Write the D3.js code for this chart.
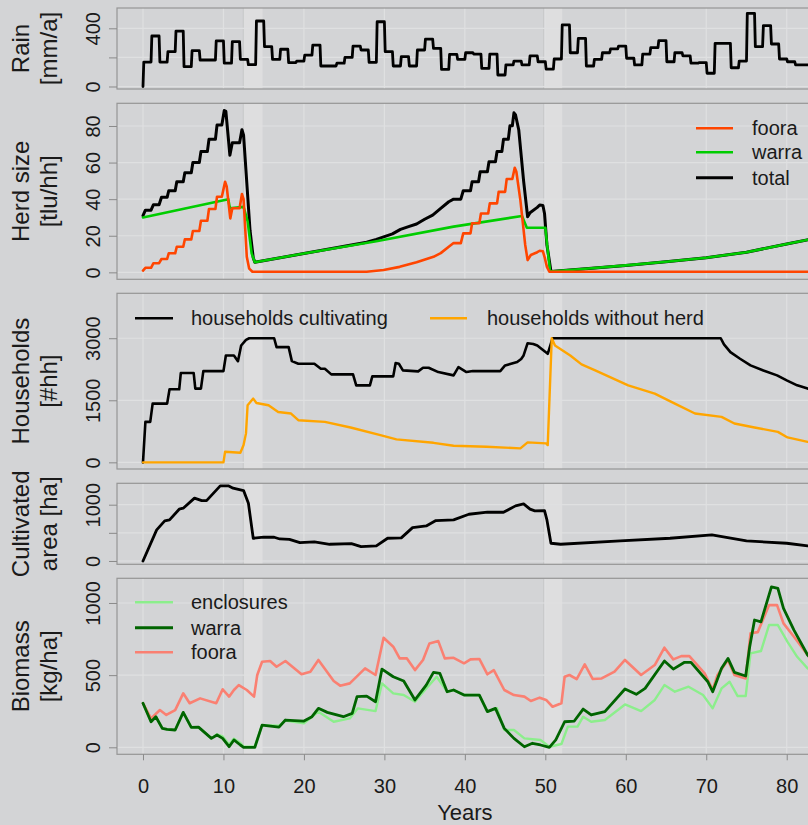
<!DOCTYPE html>
<html>
<head>
<meta charset="utf-8">
<script src="https://cdn.jsdelivr.net/npm/d3@7"></script>
<style>
  body { margin: 0; background: #d3d4d6; }
  svg { display: block; font-family: "Liberation Sans", Arial, sans-serif; }
</style>
</head>
<body>
<div id="chart"></div>
<script>
// ---- data (years, values) ----
const yearTicks = [0, 10, 20, 30, 40, 50, 60, 70, 80];
const droughtBands = [[12.46, 14.86], [49.8, 52.1]];

// annual rain, one value per year starting at year 0
const rain = [168, 347, 168, 239, 381, 136, 246, 182, 182, 313, 160, 308, 187, 150, 450, 274, 187, 256, 164, 175,
  216, 285, 141, 141, 160, 200, 278, 251, 166, 445, 239, 141, 205, 141, 251, 326, 262, 118, 221, 187,
  232, 223, 125, 223, 79, 148, 175, 148, 210, 170, 120, 189, 423, 232, 331, 141, 187, 232, 258, 278,
  194, 148, 223, 267, 315, 170, 232, 210, 160, 164, 91, 297, 297, 129, 175, 503, 274, 418, 292, 189,
  170, 148, 148, 148, 148];
const rainTicks = [0, 200, 400];
const rainTickLabels = ['0', '', '400'];

const herdTotal = [[0,31],[0.3,34],[1,34],[1.3,37],[2,37],[2.3,41],[3,41],[3.2,44.6],[4,44.6],[4.2,49.5],[5,49.5],
  [5.2,54.4],[6,54.4],[6.2,60],[7,60],[7.2,66],[8,66],[8.2,72.7],[9,72.7],[9.2,80.5],[9.8,80.5],[10.1,88.5],
  [10.3,88],[10.8,64],[11.1,70.8],[12,70.8],[12.3,78],[12.5,75],[13.3,23],[13.7,8],[13.9,5.5],[20,10.3],
  [27.8,16.5],[29,18],[30,19.5],[31,21],[32,23.5],[33,25],[34,26.4],[35,29],[36,31.3],[37,35],[38,38.6],
  [38.6,40],[39.5,40],[39.8,44.6],[40.7,44.6],[40.9,49.5],[41.7,49.5],[41.9,55],[42.8,55],[43,60.4],
  [43.8,60.4],[44,66],[44.6,66],[44.8,72.7],[45.4,72.7],[45.6,80.1],[45.9,80.1],[46.1,87.2],[46.3,86],
  [46.7,77.8],[47.3,50],[47.8,30.4],[48.1,32.6],[49,35.5],[49.3,36.8],[49.7,36.5],[49.9,32.2],[50.2,15],
  [50.7,0.5],[55,2],[60,3.8],[65,5.8],[70,8],[75,11],[80,15.5],[84,19]];
const herdWarra = [[0,30],[10.6,40],[10.8,35],[12.5,35.8],[13,28],[13.5,10.4],[13.9,5.5],[20,10.3],[29,17],
  [38.6,25],[47.1,30.8],[47.7,24.4],[50,24.4],[50.3,12],[50.6,0.5],[55,2],[60,3.8],[65,5.8],[70,8],[75,11],
  [80,15.5],[84,19]];
const herdFoora = [[0,1],[0.3,2.5],[1,2.5],[1.3,5],[2,5],[2.3,7.3],[3,7.3],[3.2,10.4],[4,10.4],[4.2,14],[5,14],
  [5.2,18],[6,18],[6.2,22.6],[7,22.6],[7.2,28.2],[8,28.2],[8.2,34.6],[9,34.6],[9.2,41.3],[9.8,41.3],
  [10.2,49.5],[10.4,47],[10.85,29.5],[11.1,35],[12,35],[12.3,42.8],[12.5,40],[12.9,8.5],[13.2,2],
  [13.6,0.3],[27.8,0.3],[29.9,1.3],[31.9,3],[34,5.5],[36.1,8.5],[37,10.5],[38,14],[38.6,16],[39.5,16],
  [39.8,21.3],[40.7,21.3],[40.9,26.8],[41.8,26.8],[42,32.2],[42.9,32.2],[43.1,37.7],[44,37.7],[44.2,44],
  [45,44],[45.2,51],[45.9,51],[46.2,57.2],[46.4,55],[46.9,39.5],[47.5,15],[47.8,6.7],[48.2,9.5],[49,11],
  [49.3,11.8],[49.7,11.5],[49.9,8.5],[50.2,3],[50.5,0.3],[84,0.3]];
const herdTicks = [0, 20, 40, 60, 80];

const hhCultivating = [[0,0],[0.3,978],[0.9,978],[1.2,1420],[3,1420],[3.3,1765],[4.5,1765],[4.7,2158],
  [6.3,2158],[6.5,1782],[7.2,1782],[7.5,2206],[10,2206],[10.3,2584],[11.3,2584],[11.8,2446],[12.2,2825],
  [12.8,2962],[13.2,3000],[16.3,3000],[16.6,2784],[18.1,2784],[18.5,2446],[19.3,2384],[21.3,2384],
  [22.1,2263],[22.6,2263],[23.4,2126],[26.1,2126],[26.5,1861],[28.2,1861],[28.5,2078],[31.1,2078],
  [31.4,2400],[31.8,2384],[32.3,2222],[34.2,2198],[34.8,2287],[35.5,2287],[36.7,2182],[38.6,2102],
  [39.2,2302],[40.2,2182],[41,2206],[44.4,2206],[45,2343],[46.5,2423],[47,2500],[47.3,2584],[47.8,2880],
  [48.5,2860],[49,2825],[50.3,2624],[50.9,3000],[71.8,3000],[72.2,2850],[73,2664],[74.2,2504],[75.5,2343],
  [77.1,2222],[78.8,2102],[80,1982],[81.3,1861],[82.6,1782],[84,1720]];
const hhNoHerd = [[0,0],[10,0],[10.2,255],[12.1,233],[12.5,417],[12.8,700],[13,1380],[13.7,1541],[14.1,1435],
  [15.6,1380],[16.8,1218],[18.4,1180],[19.3,1019],[22.6,978],[25.8,843],[29.5,657],[31.5,554],[36.1,472],
  [38.6,400],[42.7,376],[46.9,337],[47.8,482],[50.1,458],[50.3,417],[50.8,3000],[51.2,2825],[53.1,2584],
  [54.5,2367],[56.2,2222],[60.3,1861],[63.6,1661],[66.1,1420],[68.6,1180],[71.9,1098],[73.5,939],[76,843],
  [78.9,737],[80.1,602],[82.6,496],[84,460]];
const hhTicks = [0, 1500, 3000];

const cultArea = [[0,0],[1.7,552],[2.7,712],[3.3,730],[4.5,920],[5,938],[6.4,1116],[7.3,1073],[7.9,1073],
  [9.6,1335],[10.6,1335],[11.2,1293],[12.5,1251],[13.1,1027],[13.7,404],[15,422],[16.3,422],[17,391],
  [18.2,385],[19.5,326],[21.3,338],[23.2,297],[25.9,308],[27.1,255],[29,267],[30.4,404],[32.1,410],
  [33.5,593],[35.2,623],[36.4,718],[38.6,730],[40.5,830],[42.8,866],[44.8,866],[46.3,979],[47.3,1014],
  [48.1,920],[48.7,890],[49.9,896],[50.2,730],[50.7,315],[51.9,297],[59.3,356],[65.5,404],[70.7,463],
  [75,356],[80,315],[82.6,267],[84,255]];
const cultTicks = [0, 500, 1000];
const cultTickLabels = ['0', '', '1000'];

const bioEnclosures = [[0,305],[1,177],[1.6,212],[2.4,131],[3,124],[4,120],[5,242],[6,138],[6.9,140],[8.5,62],
  [9.2,90],[9.9,75],[10.7,20],[11.3,60],[12.1,30],[12.5,5],[13.9,5],[14.8,154],[16.9,150],[17.7,185],[20,166],
  [21.8,247],[23.7,177],[25.7,200],[26.7,270],[28.9,251],[29.7,443],[31.1,374],[32.4,362],[33.8,316],
  [35.2,408],[36.5,489],[37.8,385],[38.6,397],[39.9,362],[41.8,362],[42.8,247],[44,270],[44.9,120],
  [46.1,120],[47.4,62],[49.4,51],[50.5,4],[52,23],[52.8,143],[54,143],[54.7,212],[55.7,177],[57.4,189],
  [59.9,297],[61.9,251],[63.6,328],[64.8,431],[66.1,385],[67.8,420],[69.6,362],[70.8,270],[71.9,408],
  [72.9,454],[73.9,355],[74.9,355],[75.5,651],[76.8,667],[77.8,847],[78.9,847],[80.1,731],[81.3,627],
  [82.6,547],[84,490]];
const bioWarra = [[0,305],[1,177],[1.6,212],[2.4,131],[3,124],[4,120],[5,242],[6,138],[6.9,140],[8.5,62],
  [9.2,85],[9.9,62],[10.7,4],[11.3,51],[12.1,16],[12.5,0],[13.9,0],[14.8,154],[16.9,140],[17.7,189],[20,182],
  [21,212],[21.8,270],[22.9,242],[24.9,212],[26,235],[26.6,351],[27.8,355],[28.9,316],[29.7,542],[31.1,489],
  [32.4,459],[33.8,328],[35.2,431],[36.1,519],[36.9,512],[37.8,385],[38.6,397],[39.9,362],[41.8,362],
  [42.8,247],[43.8,270],[44.9,131],[46.1,62],[47.4,4],[48.4,28],[49.4,16],[50.5,0],[51.3,51],[52.4,177],
  [53.6,182],[54.7,265],[55.7,224],[57.4,247],[59.9,404],[61.3,367],[62.4,408],[64.8,598],[65.9,542],
  [67.3,589],[68.1,589],[70.2,454],[70.8,385],[71.9,547],[72.7,616],[73.5,519],[74.9,494],[75.4,697],
  [76,882],[76.8,869],[78.1,1112],[78.9,1101],[79.6,963],[80.9,812],[82.6,639],[84,560]];
const bioFoora = [[0,305],[1,200],[2.1,258],[2.9,224],[4,258],[5,374],[5.8,305],[7.1,339],[9.1,305],[9.9,402],
  [10.7,351],[11.3,397],[11.9,431],[12.9,397],[13.8,351],[14.2,501],[14.8,593],[15.8,598],[16.6,558],
  [17.7,598],[19.7,506],[20.8,524],[21.8,605],[23.7,459],[24.5,427],[25.7,443],[27.6,547],[28.9,501],
  [29.9,759],[31.1,697],[31.9,616],[32.8,616],[33.8,535],[34.8,605],[35.6,720],[36.7,736],[37.5,616],
  [38.6,620],[39.9,582],[40.7,609],[41.8,612],[42.8,506],[43.6,535],[44.9,397],[46.1,362],[47.4,351],
  [48.2,321],[49.3,344],[50.1,328],[50.9,281],[52,305],[52.4,489],[53,501],[53.9,473],[54.9,575],
  [55.9,473],[57,477],[58.6,524],[59.9,605],[61.9,501],[63.6,570],[64.8,690],[65.9,609],[66.9,632],
  [67.9,632],[69.8,512],[70.8,397],[71.4,501],[72.7,605],[73.5,501],[74.9,477],[75.5,790],[76.4,798],
  [77.8,985],[78.8,985],[79.6,859],[80.9,766],[82.6,639],[84,560]];
const bioTicks = [0, 500, 1000];

// ---- layout ----
const width = 808, height = 825;
const plotLeft = 117, plotRight = 835;
const x = d3.scaleLinear().domain([-3.23, 86]).range([plotLeft, plotRight]);
const font = '"Liberation Sans", Arial, sans-serif';

const panels = [
  { id: 'rain', top: 8, bottom: 89, domain: [-17.2, 539.5], ticks: rainTicks, labels: rainTickLabels, title: ['Rain', '[mm/a]'] },
  { id: 'herd', top: 103.3, bottom: 279.3, domain: [-3.8, 92.4], ticks: herdTicks, title: ['Herd size', '[tlu/hh]'] },
  { id: 'hh', top: 293.3, bottom: 469, domain: [-161, 4086], ticks: hhTicks, title: ['Households', '[#hh]'] },
  { id: 'cult', top: 483.3, bottom: 564.3, domain: [-59, 1380], ticks: cultTicks, labels: cultTickLabels, title: ['Cultivated', 'area [ha]'] },
  { id: 'bio', top: 578.3, bottom: 754.3, domain: [-48.5, 1171], ticks: bioTicks, title: ['Biomass', '[kg/ha]'] }
];

const svg = d3.select('#chart').append('svg')
  .attr('width', width)
  .attr('height', height);

const ys = {};

panels.forEach(p => {
  const y = d3.scaleLinear().domain(p.domain).range([p.bottom, p.top]);
  ys[p.id] = y;
  const g = svg.append('g');

  svg.append('clipPath').attr('id', 'clip-' + p.id)
    .append('rect')
    .attr('x', plotLeft).attr('y', p.top)
    .attr('width', plotRight - plotLeft).attr('height', p.bottom - p.top);

  // drought bands
  g.selectAll('rect.band').data(droughtBands).enter().append('rect')
    .attr('x', d => x(d[0]))
    .attr('width', d => x(d[1]) - x(d[0]))
    .attr('y', p.top)
    .attr('height', p.bottom - p.top)
    .attr('fill', '#dededf');
  g.selectAll('line.bandedge').data(droughtBands).enter().append('line')
    .attr('x1', d => x(d[0])).attr('x2', d => x(d[0]))
    .attr('y1', p.top).attr('y2', p.bottom)
    .attr('stroke', '#c6c7c8').attr('stroke-width', 1);

  // grid
  g.selectAll('line.vgrid').data(yearTicks).enter().append('line')
    .attr('x1', d => x(d)).attr('x2', d => x(d))
    .attr('y1', p.top).attr('y2', p.bottom)
    .attr('stroke', '#dfe0e1').attr('stroke-width', 1.2);
  g.selectAll('line.hgrid').data(p.ticks).enter().append('line')
    .attr('x1', plotLeft).attr('x2', plotRight)
    .attr('y1', d => y(d)).attr('y2', d => y(d))
    .attr('stroke', '#dfe0e1').attr('stroke-width', 1.2);

  // frame
  g.append('rect')
    .attr('x', plotLeft).attr('y', p.top)
    .attr('width', plotRight - plotLeft).attr('height', p.bottom - p.top)
    .attr('fill', 'none').attr('stroke', '#959595').attr('stroke-width', 1.2);

  // y axis, labels parallel to the axis
  const ax = g.append('g')
    .attr('transform', `translate(${plotLeft},0)`)
    .call(d3.axisLeft(y).tickValues(p.ticks).tickSize(8).tickFormat((d, i) => p.labels ? p.labels[i] : d3.format('d')(d)));
  ax.select('.domain').remove();
  ax.selectAll('.tick line').attr('stroke', '#8a8a8a');
  ax.selectAll('.tick text')
    .attr('x', 0).attr('y', -17).attr('dy', null)
    .attr('transform', 'rotate(-90)')
    .attr('text-anchor', 'middle')
    .attr('fill', '#1a1a1a')
    .style('font-size', '20px').style('font-family', font);

  // panel title, two lines
  const cy = (p.top + p.bottom) / 2;
  p.title.forEach((t, i) => {
    svg.append('text')
      .attr('transform', `translate(${29 + i * 28},${cy}) rotate(-90)`)
      .attr('text-anchor', 'middle')
      .attr('fill', '#1a1a1a')
      .style('font-size', '24px')
      .text(t);
  });
});

function drawLine(panelId, data, color, w) {
  const y = ys[panelId];
  svg.append('path')
    .datum(data)
    .attr('clip-path', `url(#clip-${panelId})`)
    .attr('fill', 'none')
    .attr('stroke', color)
    .attr('stroke-width', w)
    .attr('stroke-linejoin', 'round')
    .attr('stroke-linecap', 'round')
    .attr('d', d3.line().x(d => x(d[0])).y(d => y(d[1])));
}

// rain: annual steps with short ramps
const rainPts = [[0, 0]];
rain.forEach((v, i) => {
  if (i > 0) rainPts.push([i, rain[i - 1]]);
  rainPts.push([i + 0.1, v]);
});
drawLine('rain', rainPts, '#000', 2.8);

drawLine('herd', herdTotal, '#000', 3);
drawLine('herd', herdWarra, '#00cd00', 2.6);
drawLine('herd', herdFoora, '#ff4500', 2.6);

drawLine('hh', hhCultivating, '#000', 2.6);
drawLine('hh', hhNoHerd, '#ffa500', 2.4);

drawLine('cult', cultArea, '#000', 2.8);

drawLine('bio', bioEnclosures, '#8cee8c', 2.4);
drawLine('bio', bioFoora, '#fa8072', 2.6);
drawLine('bio', bioWarra, '#006400', 2.8);

// legends
function legend(items, x0, x1, tx, fs) {
  items.forEach(it => {
    svg.append('line')
      .attr('x1', x0 != null ? x0 : it.x0).attr('x2', x1 != null ? x1 : it.x1)
      .attr('y1', it.y).attr('y2', it.y)
      .attr('stroke', it.color).attr('stroke-width', it.w || 2.6);
    svg.append('text')
      .attr('x', tx != null ? tx : it.tx).attr('y', it.y + 7)
      .attr('fill', '#1a1a1a')
      .style('font-size', fs + 'px')
      .text(it.label);
  });
}
legend([
  { label: 'foora', color: '#ff4500', y: 128.3 },
  { label: 'warra', color: '#00cd00', y: 152.3 },
  { label: 'total', color: '#000', y: 177.7, w: 3 }
], 696, 733, 752, 20);
legend([
  { label: 'households cultivating', color: '#000', y: 318.3, x0: 135, x1: 173, tx: 191 },
  { label: 'households without herd', color: '#ffa500', y: 318.3, x0: 430, x1: 467, tx: 487 }
], null, null, null, 20);
legend([
  { label: 'enclosures', color: '#8cee8c', y: 602.3 },
  { label: 'warra', color: '#006400', y: 627.7, w: 3 },
  { label: 'foora', color: '#fa8072', y: 652.3 }
], 135, 173, 191, 20);

// x axis on the bottom panel
const last = panels[panels.length - 1];
const xa = svg.append('g')
  .attr('transform', `translate(0,${last.bottom})`)
  .call(d3.axisBottom(x).tickValues(yearTicks).tickSize(6).tickPadding(19).tickFormat(d3.format('d')));
xa.select('.domain').remove();
xa.selectAll('.tick line').attr('stroke', '#8a8a8a');
xa.selectAll('.tick text')
  .attr('fill', '#1a1a1a')
  .style('font-size', '20px').style('font-family', font);

svg.append('text')
  .attr('x', x(40)).attr('y', 820)
  .attr('text-anchor', 'middle')
  .attr('fill', '#1a1a1a')
  .style('font-size', '22px')
  .text('Years');
</script>
</body>
</html>
